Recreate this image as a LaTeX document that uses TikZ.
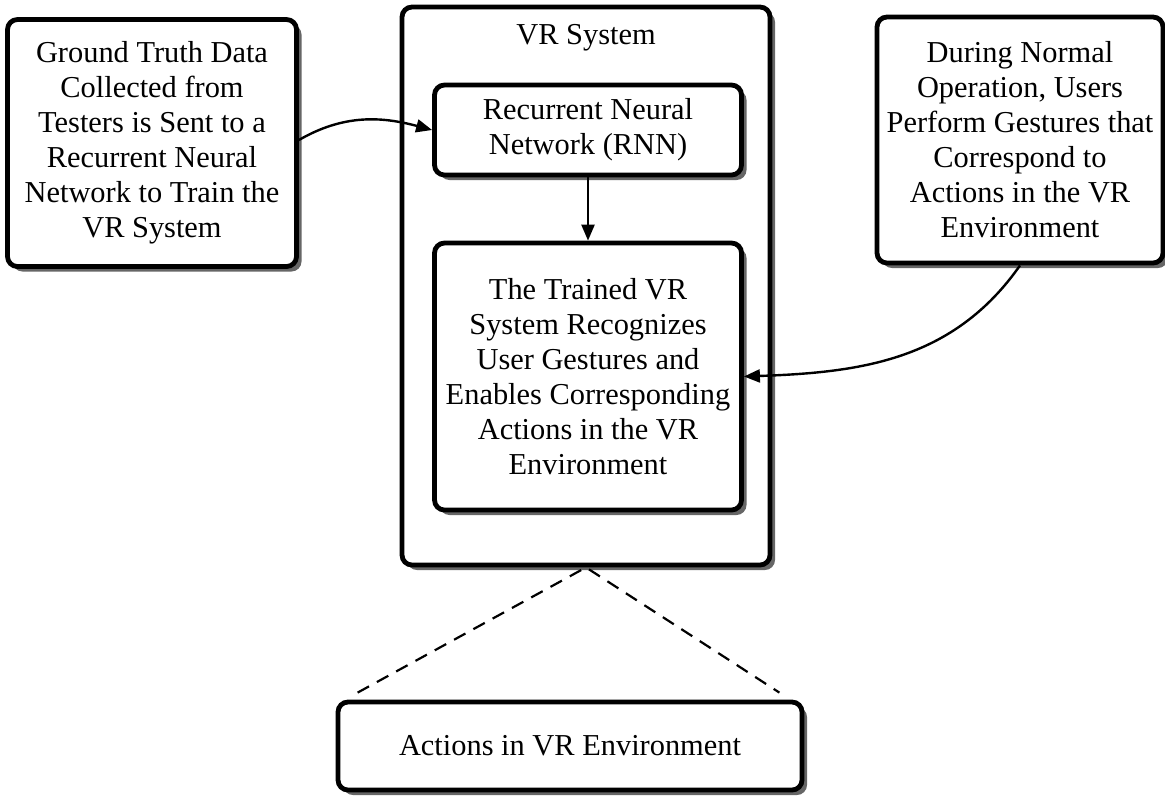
\documentclass[tikz,border=0pt]{standalone}
\usepackage{fontspec}
\setmainfont{Liberation Serif}
\usetikzlibrary{arrows.meta,shadows}

\tikzset{
	box/.style={draw, line width=2.4pt, rounded corners=5pt, fill=white,
		align=center, inner sep=0pt, font=\fontsize{15.2}{17.5}\selectfont,
		drop shadow={shadow xshift=2.5pt, shadow yshift=-2.5pt, fill=black!60, opacity=1}},
	flow/.style={-{Triangle[length=8pt,width=6.5pt]}, line width=1.2pt},
	zoomline/.style={line width=1.1pt, dash pattern=on 6.5pt off 4.5pt}
}

\begin{document}
\begin{tikzpicture}[x=0.5pt,y=0.5pt]
	\useasboundingbox (0,0) rectangle (1165,-799);

	\node[box, minimum width=184pt, minimum height=279pt] (vr) at (586,-286) {};
	\node[anchor=base, font=\fontsize{15.2}{17.5}\selectfont] (vrlabel) at (586,-44) {VR System};

	\node[box, minimum width=144.5pt, minimum height=123.5pt] (ground) at (152,-143)
		{Ground Truth Data\\Collected from\\Testers is Sent to a\\Recurrent Neural\\Network to Train the\\VR System};
	\node[box, minimum width=143pt, minimum height=123pt] (users) at (1020,-140)
		{During Normal\\Operation, Users\\Perform Gestures that\\Correspond to\\Actions in the VR\\Environment};

	\node[box, minimum width=153.5pt, minimum height=45pt] (rnn) at (588,-130)
		{Recurrent Neural\\Network (RNN)};
	\node[box, minimum width=153.5pt, minimum height=133.5pt] (trained) at (588,-376.5)
		{The Trained VR\\System Recognizes\\User Gestures and\\Enables Corresponding\\Actions in the VR\\Environment};

	\node[box, minimum width=232pt, minimum height=44pt] (actions) at (570,-746)
		{Actions in VR Environment};

	\draw[flow] ([yshift=1.5pt]ground.east) to[out=30, in=165] (rnn.west);
	\draw[flow] (rnn.south) -- (trained.north);
	\draw[flow] (users.south) to[out=-125, in=2] (trained.east);

	\draw[zoomline] ([xshift=11pt,yshift=3.5pt]actions.north west) -- (vr.south)
		-- ([xshift=-12.5pt,yshift=3.5pt]actions.north east);
\end{tikzpicture}
\end{document}
